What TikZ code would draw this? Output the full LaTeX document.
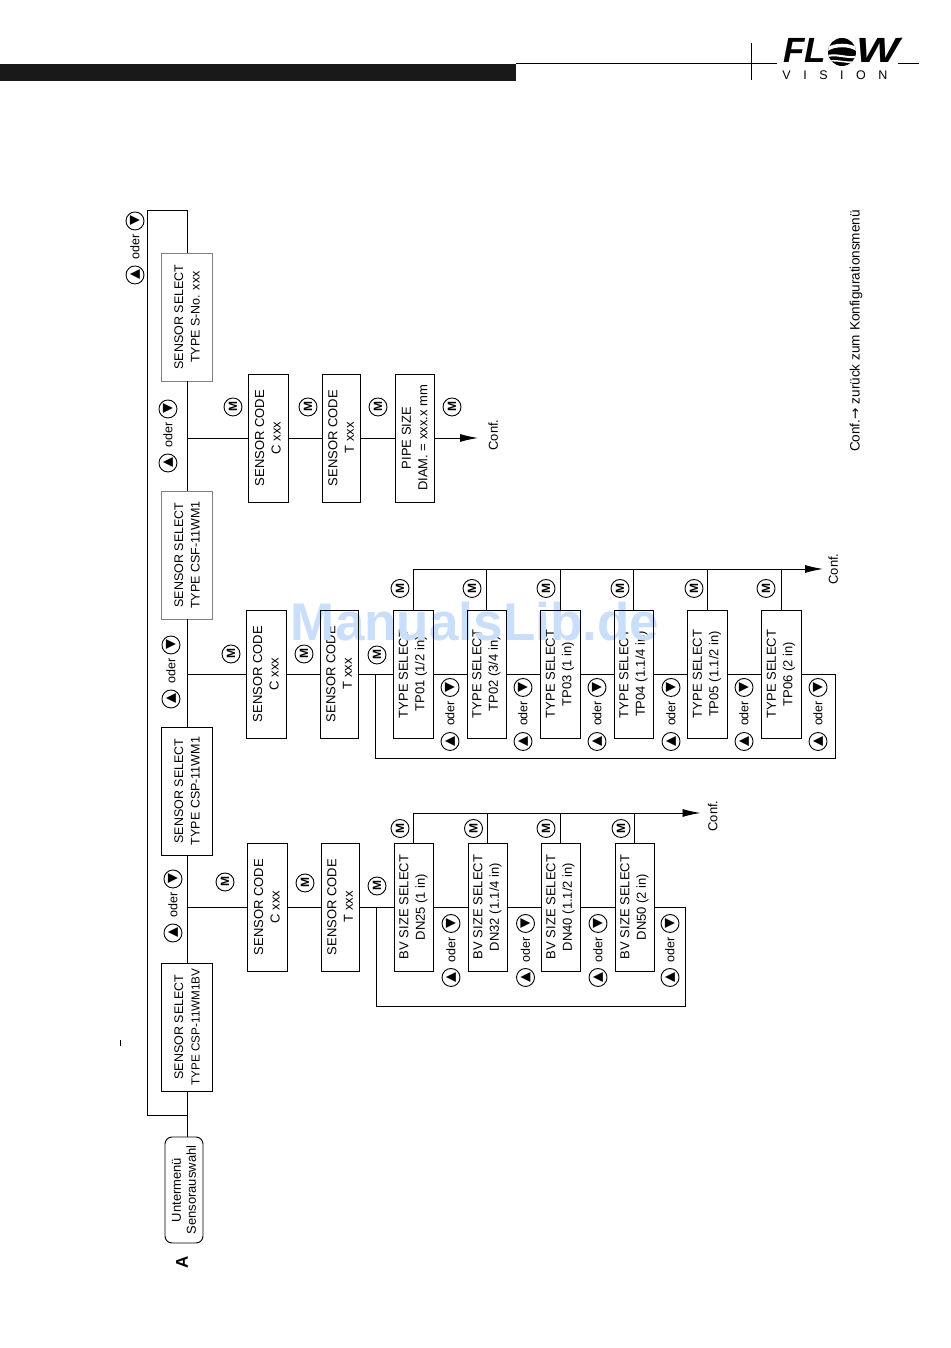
\documentclass[tikz,border=0pt]{standalone}
\usepackage{fontspec}
\setmainfont{Liberation Sans}
\newfontfamily\keyfont{DejaVu Sans}
\newfontfamily\logofont[LetterSpace=100]{Liberation Sans}
\usetikzlibrary{arrows.meta, positioning}
\definecolor{markblue}{RGB}{200,222,250}
\tikzset{
  menubox/.style={rectangle, rounded corners=7pt, draw=black, fill=white, text=black, minimum width=106pt, minimum height=38pt, inner sep=0pt, outer sep=0pt, align=center, font=\fontsize{13}{15}\selectfont},
  selbox/.style={rectangle, draw=black, fill=white, text=black, minimum width=128pt, minimum height=51pt, inner sep=0pt, outer sep=0pt, align=center, font=\fontsize{12.5}{16.5}\selectfont},
  codebox/.style={rectangle, draw=black, fill=white, text=black, minimum width=128pt, minimum height=39pt, inner sep=0pt, outer sep=0pt, align=center, font=\fontsize{13}{16.5}\selectfont},
  keybtn/.style={circle, draw=black, fill=white, text=black, minimum size=18pt, inner sep=0pt, on grid, font=\keyfont\fontsize{13}{13}\selectfont},
  mbtn/.style={circle, draw=black, fill=white, text=black, minimum size=18pt, inner sep=0pt, on grid, font=\bfseries\fontsize{12}{12}\selectfont},
  oderlab/.style={text=black, inner sep=0pt, on grid, font=\fontsize{12.5}{12.5}\selectfont},
  conflab/.style={text=black, inner sep=0pt, font=\fontsize{13}{13}\selectfont},
  confarrow/.style={-{Latex[length=18pt,width=8pt]}}
}
\newcommand{\oderkeys}[2]{%
  \node (#1) [oderlab, #2] {oder};%
  \node (#1up) [keybtn, left=28pt of #1] {▲};%
  \node (#1dn) [keybtn, right=26pt of #1] {▼};%
}
\begin{document}
\begin{tikzpicture}[x=1pt, y=1pt, line width=0.9pt]
  \useasboundingbox (0,0) rectangle (950,1348);
  % page head
  \fill[black!90] (0,1267) rectangle (516,1284);
  \coordinate (headl) at (516,1285);
  \coordinate (headm) at (777,1285);
  \coordinate (headr) at (898,1285);
  \coordinate (heade) at (919,1285);
  \draw (headl) -- (headm);
  \draw (headr) -- (heade);
  \draw (751,1305) -- (751,1268);
  \node (fl) [anchor=base west, inner sep=0pt, font=\bfseries\itshape\fontsize{35}{35}\selectfont] at (783,1285) {FL};
  \fill (842,1296) circle (14);
  \begin{scope}
    \clip (842,1296) circle (14);
    \draw[white, line width=3.5pt] (826,1298) .. controls (834,1304) and (850,1304) .. (858,1298);
    \draw[white, line width=2pt] (826,1291) .. controls (834,1296) and (850,1288) .. (858,1292);
    \draw[white, line width=1.5pt] (826,1286) .. controls (834,1290) and (850,1283) .. (858,1287);
  \end{scope}
  \node (w) [anchor=base west, inner sep=0pt, xscale=1.3, font=\bfseries\itshape\fontsize{35}{35}\selectfont] at (856,1285) {W};
  \node (reg) [inner sep=0pt, font=\fontsize{4}{4}\selectfont] at (901,1309) {®};
  \node (vision) [anchor=base west, inner sep=0pt, font=\logofont\fontsize{12.5}{12.5}\selectfont] at (782,1268) {VISION};
  \draw[line width=0.5pt] (120,302) -- (120,308);%stray tick
  \begin{scope}[rotate=90, transform shape]
    % sensor row
    \node (menu) [menubox] at (158,-184) {Untermenü\\Sensorauswahl};%submenu start
    \node (sel1) [selbox, right=46pt of menu, yshift=-3pt] {SENSOR SELECT\\{\fontsize{11.7}{16.5}\selectfont TYPE CSP-11WM1BV}};
    \node (sel2) [selbox, right=108pt of sel1] {SENSOR SELECT\\TYPE CSP-11WM1};
    \node (sel3) [selbox, draw=gray, right=108pt of sel2] {SENSOR SELECT\\TYPE CSF-11WM1};
    \node (sel4) [selbox, draw=gray, right=110pt of sel3] {SENSOR SELECT\\TYPE S-No. xxx};
    \node (mark) [inner sep=0pt, left=13pt of menu, yshift=2pt, font=\bfseries\fontsize{17}{17}\selectfont] {A};
    \draw (sel1 -| menu.east) -- (sel1);%menu to first sensor
    \draw (sel1) -- (sel2);
    \draw (sel2) -- (sel3);
    \draw (sel3) -- (sel4);
    \coordinate[left=24pt of sel1] (back);
    \draw (back) -- ++(0,40) -- ++(905,0) -- ++(0,-40) -- (sel4);%wraps last sensor to first
    \coordinate[right=56pt of sel1] (j1);
    \coordinate[right=53pt of sel2] (j2);
    \coordinate[right=53pt of sel3] (j3);
    \oderkeys{o1}{above=9pt of j1, xshift=2pt}
    \oderkeys{o2}{above=11pt of j2, xshift=3pt}
    \oderkeys{o3}{above=14pt of j3, xshift=3pt}
    \oderkeys{o4}{above=52pt of sel4, xshift=70pt}
    % BV branch
    \node (c1) [codebox, below=60pt of j1, minimum height=40pt] {SENSOR CODE\\C xxx};
    \node (t1) [codebox, below=34pt of c1, minimum height=38pt] {SENSOR CODE\\T xxx};
    \node (bv1) [codebox, below=35pt of t1] {BV SIZE SELECT\\DN25 (1 in)};
    \node (bv2) [codebox, below=35pt of bv1] {BV SIZE SELECT\\DN32 (1.1/4 in)};
    \node (bv3) [codebox, below=34pt of bv2] {BV SIZE SELECT\\DN40 (1.1/2 in)};
    \node (bv4) [codebox, below=35pt of bv3] {BV SIZE SELECT\\DN50 (2 in)};
    \draw (j1) -- (c1);
    \draw (c1) -- (t1);
    \draw (t1) -- (bv1);
    \draw (bv1) -- (bv2);
    \draw (bv2) -- (bv3);
    \draw (bv3) -- (bv4);
    \coordinate[below=17pt of t1] (tap1);
    \draw (tap1) -- ++(-99,0) -- ++(0,-309) -- ++(99,0) -- (bv4);%size loop
    \coordinate[right=30pt of bv1] (bus1);
    \coordinate[below=287pt of bus1] (bus1e);
    \draw (bv1) -- (bus1);
    \draw (bv2) -- (bv2 -| bus1);
    \draw (bv3) -- (bv3 -| bus1);
    \draw (bv4) -- (bv4 -| bus1);
    \draw[confarrow] (bus1) -- (bus1e);
    \node (conf1) [conflab, below=7pt of bus1e, xshift=-3pt] {Conf.};
    \node (m1) [mbtn, above=42pt of c1, xshift=25pt] {M};
    \node (m2) [mbtn, below=38pt of c1, xshift=24pt] {M};
    \node (m3) [mbtn, below=37pt of t1, xshift=21pt] {M};
    \node (m4) [mbtn, above=13.5pt of bv1, xshift=78.5pt] {M};
    \node (m5) [mbtn, above=14pt of bv2, xshift=78.5pt] {M};
    \node (m6) [mbtn, above=14.5pt of bv3, xshift=78.5pt] {M};
    \node (m7) [mbtn, above=13.5pt of bv4, xshift=78.5pt] {M};
    \oderkeys{ob1}{below=37.5pt of bv1, xshift=-42.5pt}
    \oderkeys{ob2}{below=38pt of bv2, xshift=-42.5pt}
    \oderkeys{ob3}{below=37.5pt of bv3, xshift=-42.5pt}
    \oderkeys{ob4}{below=35.5pt of bv4, xshift=-42.5pt}
    % type branch
    \node (c2) [codebox, below=59pt of j2, minimum height=40pt] {SENSOR CODE\\C xxx};
    \node (t2) [codebox, below=34pt of c2, minimum height=38pt] {SENSOR CODE\\T xxx};
    \node (tp1) [codebox, below=35pt of t2, minimum height=40pt] {TYPE SELECT\\TP01 (1/2 in)};
    \node (tp2) [codebox, below=34pt of tp1] {TYPE SELECT\\TP02 (3/4 in)};
    \node (tp3) [codebox, below=34pt of tp2, minimum height=40pt] {TYPE SELECT\\TP03 (1 in)};
    \node (tp4) [codebox, below=34pt of tp3] {TYPE SELECT\\TP04 (1.1/4 in)};
    \node (tp5) [codebox, below=34pt of tp4, minimum height=40pt] {TYPE SELECT\\TP05 (1.1/2 in)};
    \node (tp6) [codebox, below=34pt of tp5, minimum height=40pt] {TYPE SELECT\\TP06 (2 in)};
    \draw (j2) -- (c2);
    \draw (c2) -- (t2);
    \draw (t2) -- (tp1);
    \draw (tp1) -- (tp2);
    \draw (tp2) -- (tp3);
    \draw (tp3) -- (tp4);
    \draw (tp4) -- (tp5);
    \draw (tp5) -- (tp6);
    \coordinate[below=17pt of t2] (tap2);
    \draw (tap2) -- ++(-84,0) -- ++(0,-460) -- ++(84,0) -- (tp6);%type loop
    \coordinate[right=41pt of tp1] (bus2);
    \coordinate[below=410pt of bus2] (bus2e);
    \draw (tp5) -- (tp5 -| bus2);
    \draw (tp6) -- (tp6 -| bus2);
    \draw[confarrow] (bus2) -- (bus2e);
    \node (conf2) [conflab, below=5pt of bus2e] {Conf.};
    \node (m8) [mbtn, above=35pt of c2, xshift=20pt] {M};
    \node (m9) [mbtn, below=38pt of c2, xshift=20pt] {M};
    \node (m10) [mbtn, below=38pt of t2, xshift=19pt] {M};
    \node (m11) [mbtn, above=13pt of tp1, xshift=85.5pt] {M};
    \node (m12) [mbtn, above=14.5pt of tp2, xshift=85.5pt] {M};
    \node (m13) [mbtn, above=14pt of tp3, xshift=85.5pt] {M};
    \node (m14) [mbtn, above=13.5pt of tp4, xshift=85.5pt] {M};
    \node (m15) [mbtn, above=13pt of tp5, xshift=85.5pt] {M};
    \node (m16) [mbtn, above=15pt of tp6, xshift=85.5pt] {M};
    \oderkeys{ot1}{below=37pt of tp1, xshift=-39.5pt}
    \oderkeys{ot2}{below=36.5pt of tp2, xshift=-39.5pt}
    \oderkeys{ot3}{below=37pt of tp3, xshift=-39.5pt}
    \oderkeys{ot4}{below=37.5pt of tp4, xshift=-39.5pt}
    \oderkeys{ot5}{below=37pt of tp5, xshift=-39.5pt}
    \oderkeys{ot6}{below=37pt of tp6, xshift=-39.5pt}
    % pipe branch
    \node (c3) [codebox, below=61pt of j3, minimum height=40pt] {SENSOR CODE\\C xxx};
    \node (t3) [codebox, below=34pt of c3, minimum height=38pt] {SENSOR CODE\\T xxx};
    \node (pipe) [codebox, below=35pt of t3] {PIPE SIZE\\DIAM. = xxx.x mm};
    \coordinate[below=44pt of pipe] (pipee);
    \draw (j3) -- (c3);
    \draw (c3) -- (t3);
    \draw (t3) -- (pipe);
    \draw[confarrow] (pipe) -- (pipee);
    \node (conf3) [conflab, below=10pt of pipee, xshift=3pt] {Conf.};
    \node (m17) [mbtn, above=35pt of c3, xshift=31pt] {M};
    \node (m18) [mbtn, below=40pt of c3, xshift=31pt] {M};
    \node (m19) [mbtn, below=37pt of t3, xshift=31pt] {M};
    \node (m20) [mbtn, below=37.5pt of pipe, xshift=31pt] {M};
    \node (note) [conflab, font=\fontsize{13.6}{13.6}\selectfont] at (1017,-856) {Conf.{\keyfont→} zurück zum Konfigurationsmenü};
  \end{scope}
  \node (mlib) [text=markblue, inner sep=0pt, font=\bfseries\fontsize{53}{53}\selectfont] at (475,726) {ManualsLib.de};
  % outlines under the blue lettering come back on top of it
  \begin{scope}[rotate=90]
    \draw (t2.south west) rectangle (t2.north east);
    \draw (tp1.south west) rectangle (tp1.north east);
    \draw (tp2.south west) rectangle (tp2.north east);
    \draw (tp3.south west) rectangle (tp3.north east);
    \draw (tp4.south west) rectangle (tp4.north east);
    \draw (tp1) -- (bus2);
    \draw (tp2) -- (tp2 -| bus2);
    \draw (tp3) -- (tp3 -| bus2);
    \draw (tp4) -- (tp4 -| bus2);
  \end{scope}
\end{tikzpicture}
\end{document}
